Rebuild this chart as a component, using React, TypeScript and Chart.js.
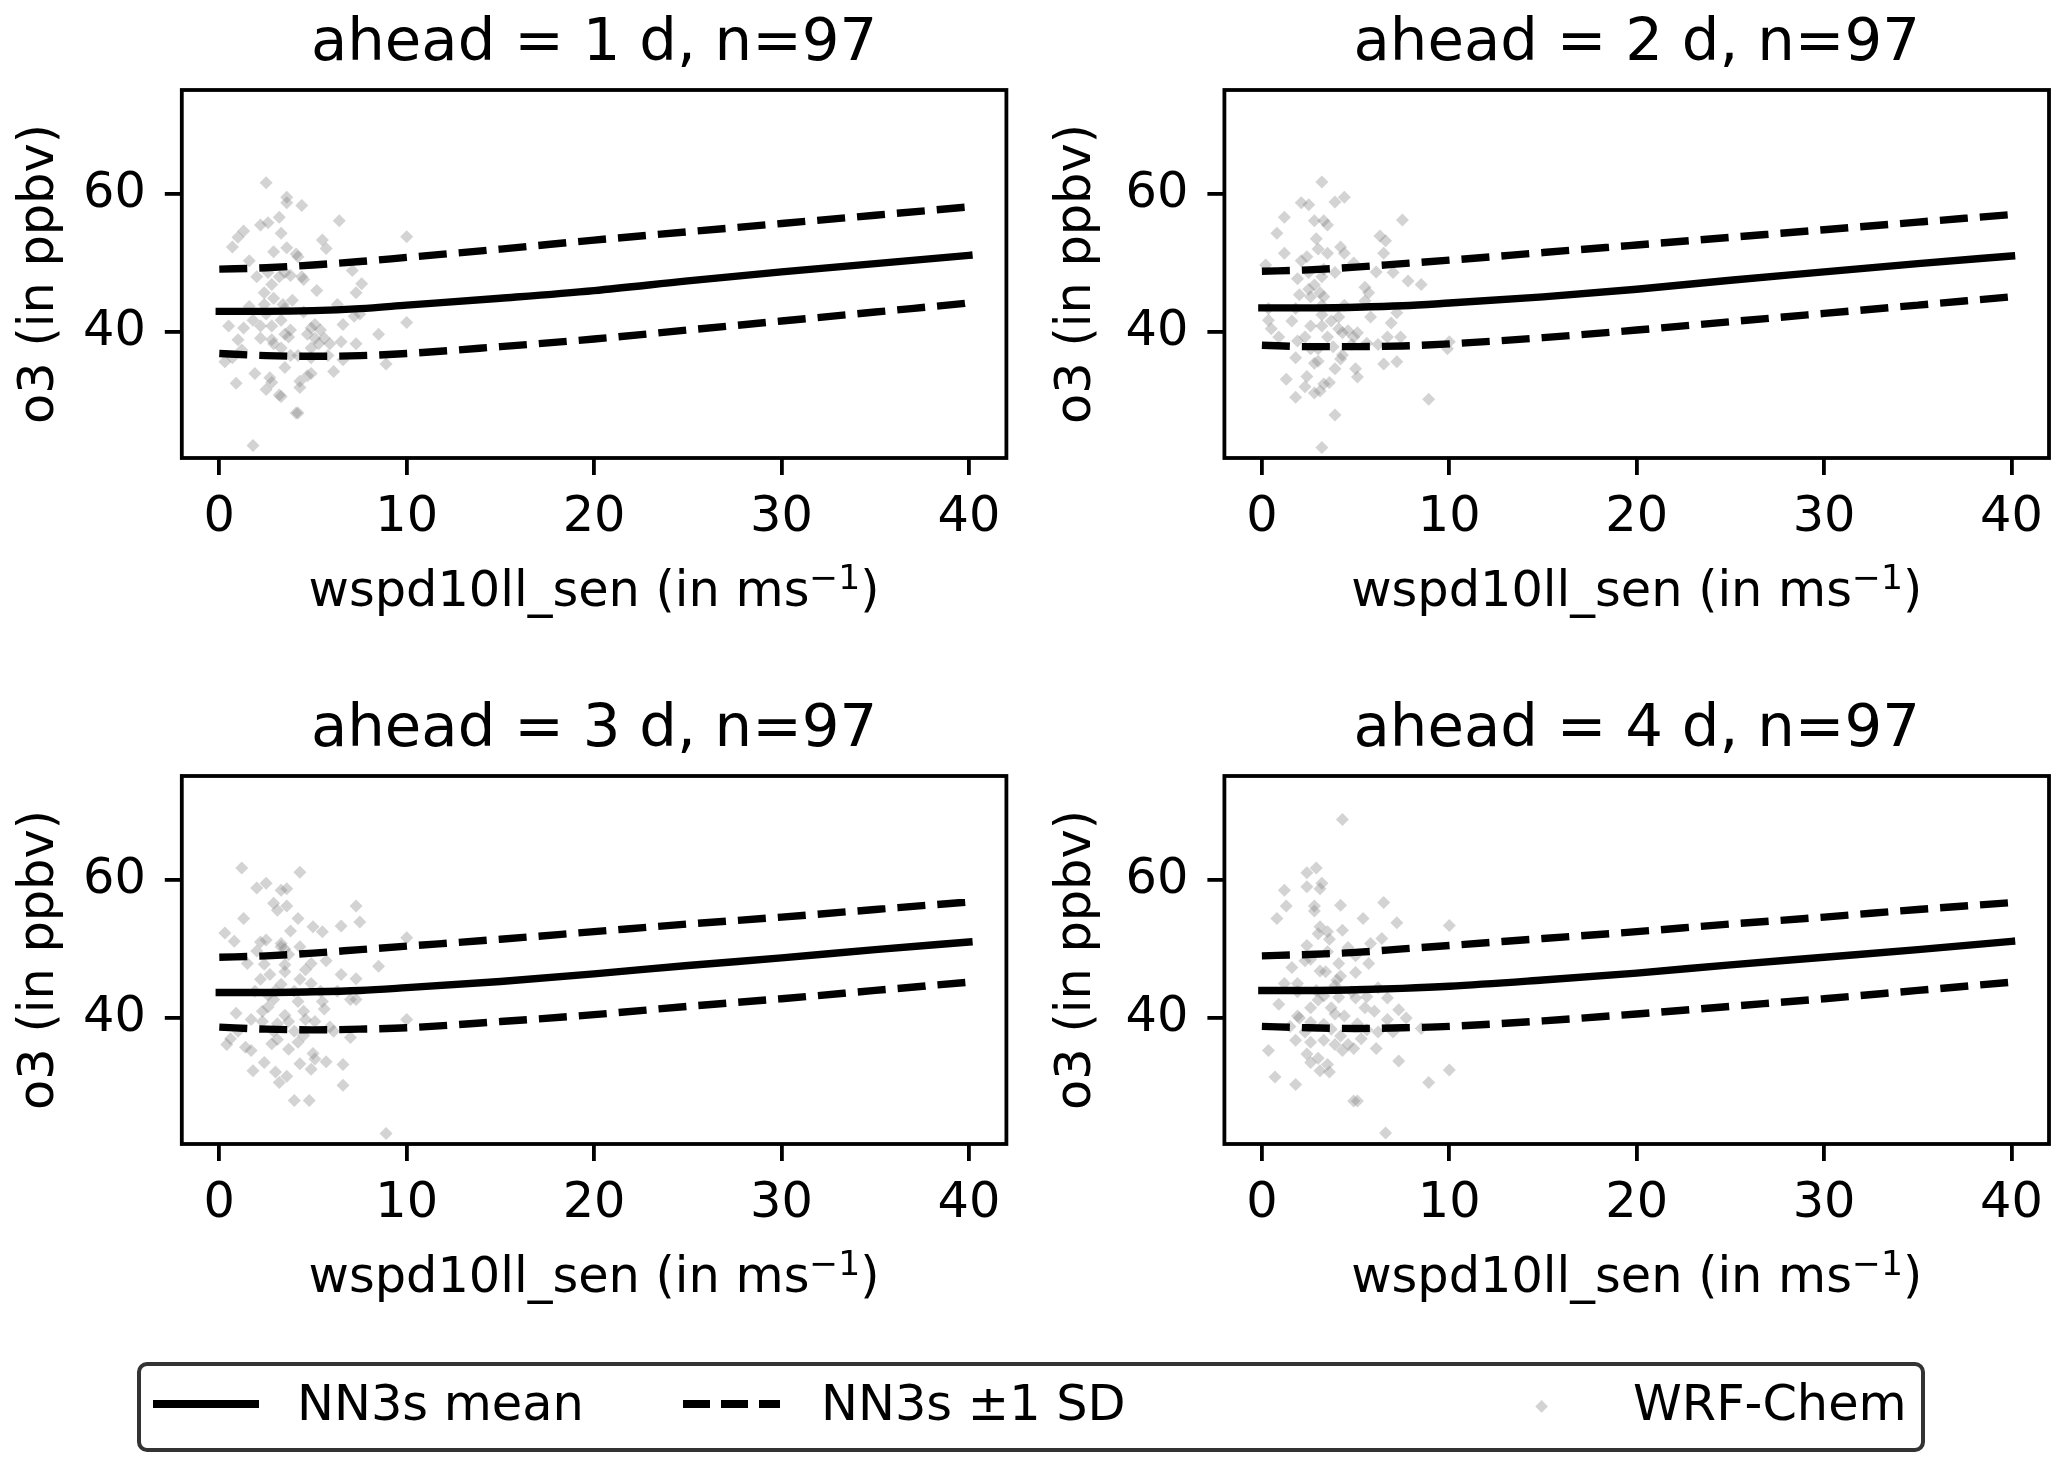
import React, { useEffect, useRef } from "react";
import { Chart, registerables } from "chart.js";

Chart.register(...registerables);

const FONT = "'DejaVu Sans', 'Noto Sans', sans-serif";

// ---------- text ----------
const panelTitles = ["ahead = 1 d, n=97", "ahead = 2 d, n=97", "ahead = 3 d, n=97", "ahead = 4 d, n=97"];
const xAxisLabelParts = ["wspd10ll_sen (in ms", "\u22121", ")"]; // main, superscript, closing
const yAxisLabel = "o3 (in ppbv)";
const xTickValues = [0, 10, 20, 30, 40];
const yTickValues = [40, 60];
const legendLabels = ["NN3s mean", "NN3s \u00B11 SD", "WRF-Chem"];

// ---------- NN3s curves ----------
const curveX = [0, 2.5, 5, 7.5, 10, 15, 20, 25, 30, 35, 40];

const mean1 = [43.0, 43.0, 43.1, 43.4, 43.9, 44.9, 46.0, 47.4, 48.7, 49.9, 51.1];
const upper1 = [49.1, 49.3, 49.7, 50.2, 50.8, 52.0, 53.3, 54.5, 55.7, 56.9, 58.1];
const lower1 = [36.9, 36.6, 36.5, 36.6, 36.9, 37.9, 39.0, 40.3, 41.6, 42.9, 44.2];

const mean2 = [43.5, 43.5, 43.6, 43.8, 44.2, 45.1, 46.2, 47.5, 48.7, 49.9, 51.0];
const upper2 = [48.8, 49.0, 49.4, 49.9, 50.4, 51.5, 52.6, 53.7, 54.8, 55.9, 57.0];
const lower2 = [38.1, 37.9, 37.9, 38.0, 38.3, 39.2, 40.3, 41.5, 42.7, 43.9, 45.1];

const mean3 = [43.7, 43.7, 43.8, 44.0, 44.4, 45.3, 46.4, 47.6, 48.7, 49.9, 51.0];
const upper3 = [48.8, 49.0, 49.4, 49.9, 50.4, 51.4, 52.5, 53.6, 54.6, 55.7, 56.8];
const lower3 = [38.7, 38.4, 38.3, 38.4, 38.6, 39.5, 40.5, 41.7, 42.8, 44.0, 45.2];

const mean4 = [44.0, 44.0, 44.1, 44.3, 44.6, 45.5, 46.5, 47.7, 48.8, 49.9, 51.1];
const upper4 = [49.0, 49.2, 49.5, 50.0, 50.5, 51.5, 52.5, 53.6, 54.6, 55.7, 56.7];
const lower4 = [38.8, 38.6, 38.5, 38.6, 38.8, 39.6, 40.6, 41.7, 42.8, 44.0, 45.2];

// ---------- WRF-Chem scatter ----------
const scatterX1 = [2.5, 3.6, 3.6, 4.4, 3.2, 2.6, 2.2, 6.4, 1.3, 1.0, 3.3, 10.0, 5.5, 0.7, 5.7, 2.9, 3.6, 4.1, 4.2, 1.6,
  7.1, 3.5, 3.8, 4.5, 3.2, 7.6, 5.2, 7.3, 2.4, 2.9, 2.4, 3.4, 1.6, 2.5, 7.5, 7.2, 1.8, 10.0, 2.8, 5.1,
  0.5, 3.8, 3.5, 3.7, 4.7, 5.4, 8.5, 2.2, 2.8, 5.1, 5.6, 6.5, 7.3, 1.2, 3.3, 4.9, 6.6, 4.9, 3.8, 0.7,
  0.3, 8.9, 6.1, 4.9, 1.9, 4.7, 2.7, 4.3, 0.9, 2.8, 4.3, 2.5, 3.2, 3.3, 4.1, 4.2, 1.8, 1.3, 5.9, 3.5,
  2.8, 4.4, 2.6, 4.9, 5.3, 3.3, 2.0, 6.3, 3.9, 2.2, 4.5, 6.6, 2.9, 1.0, 4.2, 5.8, 3.5];
const scatterY1 = [61.6, 59.5, 58.7, 58.3, 56.6, 55.8, 55.5, 56.1, 54.6, 53.7, 54.3, 53.8, 53.3, 52.3, 52.1, 51.6, 52.2, 51.3, 50.9, 50.3,
  48.9, 48.6, 48.2, 47.6, 48.0, 47.0, 46.0, 45.7, 45.7, 44.9, 44.0, 44.0, 43.7, 42.6, 42.6, 42.3, 41.7, 41.4, 40.9, 41.1,
  40.9, 40.3, 39.7, 39.3, 39.7, 40.3, 39.7, 39.1, 38.9, 39.1, 39.1, 38.6, 38.3, 37.4, 37.7, 37.7, 36.0, 36.3, 36.6, 36.3,
  35.7, 35.4, 34.3, 34.0, 34.0, 33.7, 33.4, 32.9, 32.6, 32.7, 32.0, 31.7, 30.9, 30.7, 28.3, 28.3, 23.6, 40.6, 38.3, 43.4,
  46.9, 48.0, 48.6, 40.6, 38.3, 41.7, 48.0, 44.0, 44.6, 40.9, 42.9, 41.1, 38.3, 38.9, 36.6, 36.6, 34.9];

const scatterX2 = [3.2, 4.4, 3.9, 2.1, 2.5, 1.2, 3.3, 7.5, 2.8, 3.5, 0.8, 2.9, 6.3, 6.6, 4.2, 3.0, 1.2, 4.4, 2.4, 6.5,
  0.2, 4.9, 6.1, 3.3, 1.9, 7.0, 7.8, 8.5, 2.5, 2.8, 5.5, 5.7, 2.6, 3.1, 3.2, 0.35, 4.1, 7.2, 3.2, 0.35,
  6.9, 2.6, 3.2, 4.1, 4.3, 4.6, 5.1, 3.5, 0.9, 2.3, 4.9, 6.7, 7.4, 10.0, 9.9, 3.8, 5.6, 3.0, 4.3, 1.8,
  3.0, 4.2, 2.8, 6.5, 7.2, 5.0, 5.1, 1.3, 2.4, 3.6, 3.3, 2.3, 3.1, 2.8, 1.8, 8.9, 3.9, 3.2, 2.0, 2.5,
  3.9, 3.3, 1.6, 3.7, 4.8, 1.8, 5.8, 2.6, 3.9, 1.9, 4.4, 6.2, 0.5, 3.2, 5.5, 3.5, 2.1];
const scatterY2 = [61.7, 59.5, 58.8, 58.7, 58.4, 56.6, 56.1, 56.2, 56.1, 55.5, 54.3, 53.5, 53.9, 53.2, 52.3, 52.0, 51.4, 51.4, 50.9, 51.4,
  49.7, 50.0, 48.7, 49.1, 47.7, 48.6, 47.4, 46.9, 46.2, 46.8, 46.5, 45.7, 45.1, 45.7, 43.9, 43.4, 42.2, 42.8, 42.5, 41.7,
  41.3, 40.9, 40.9, 40.5, 39.9, 40.2, 39.9, 39.3, 39.3, 39.3, 39.3, 39.3, 39.3, 38.6, 37.6, 37.9, 38.4, 37.6, 36.7, 36.3,
  35.8, 36.1, 35.5, 35.4, 35.7, 34.7, 33.5, 33.2, 33.6, 32.7, 32.5, 32.1, 31.5, 31.2, 30.6, 30.3, 28.0, 23.3, 45.4, 48.6,
  48.6, 45.1, 41.6, 41.6, 38.2, 43.4, 42.2, 37.6, 34.7, 38.7, 43.9, 38.2, 40.5, 48.0, 44.5, 51.4, 50.3];

const scatterX3 = [1.2, 4.3, 2.5, 2.0, 3.3, 3.6, 2.9, 3.6, 7.3, 3.1, 1.3, 4.2, 7.5, 6.5, 5.0, 5.5, 0.3, 2.5, 2.2, 10.0,
  0.8, 3.3, 3.5, 3.7, 5.7, 8.5, 2.4, 2.7, 3.5, 6.5, 7.3, 4.3, 3.3, 2.6, 4.2, 7.0, 7.3, 5.5, 2.6, 5.6,
  2.3, 0.9, 3.5, 4.6, 5.1, 10.0, 2.3, 3.7, 2.9, 6.1, 7.0, 3.1, 4.2, 0.6, 0.4, 1.4, 1.7, 3.7, 5.0, 5.1,
  5.7, 2.4, 4.3, 6.6, 4.9, 1.8, 3.0, 3.6, 3.2, 6.6, 4.0, 4.8, 8.9, 2.9, 1.9, 4.0, 4.5, 5.9, 2.8, 4.5,
  1.7, 3.5, 4.9, 3.8, 2.2, 5.4, 3.1, 1.0, 4.0, 3.3, 2.0, 4.9, 6.3, 4.3, 3.0, 4.6, 1.5];
const scatterY3 = [61.7, 61.1, 59.5, 58.8, 58.5, 58.7, 56.6, 56.2, 56.2, 55.6, 54.4, 54.4, 53.9, 53.3, 53.2, 52.5, 52.3, 51.3, 51.0, 51.6,
  51.1, 50.8, 50.0, 49.2, 48.3, 47.5, 47.8, 46.3, 46.7, 46.3, 45.7, 45.6, 44.9, 43.3, 42.4, 42.7, 42.7, 42.4, 41.6, 41.3,
  41.0, 40.7, 40.4, 39.8, 39.5, 39.8, 39.5, 39.5, 38.1, 38.1, 37.2, 36.9, 36.5, 37.0, 36.2, 35.8, 35.3, 35.5, 34.9, 34.1,
  33.7, 33.6, 33.4, 33.3, 32.6, 32.4, 32.2, 31.6, 30.7, 30.3, 28.1, 28.1, 23.3, 42.7, 43.9, 43.9, 41.0, 38.7, 36.3, 37.5,
  39.8, 47.7, 47.9, 52.6, 45.6, 43.9, 39.2, 38.1, 38.1, 50.3, 49.7, 45.0, 43.9, 50.3, 44.0, 47.0, 47.9];

const scatterX4 = [4.3, 2.4, 2.9, 2.4, 3.2, 3.1, 1.2, 2.8, 4.2, 6.5, 1.3, 2.8, 0.8, 5.4, 10.0, 7.2, 3.1, 3.5, 4.3, 3.0,
  6.4, 3.6, 2.4, 3.5, 5.0, 2.3, 5.7, 3.1, 3.4, 5.0, 4.2, 1.9, 3.9, 4.1, 5.0, 5.6, 6.7, 0.9, 7.3, 3.7,
  6.7, 1.9, 2.6, 3.3, 5.1, 7.7, 1.5, 3.7, 8.5, 5.6, 4.2, 2.6, 4.6, 3.9, 4.3, 4.9, 6.1, 0.35, 2.4, 3.0,
  7.3, 2.6, 3.5, 3.1, 3.6, 10.0, 0.7, 8.9, 1.8, 4.9, 5.1, 6.6, 2.6, 1.9, 3.0, 4.4, 6.2, 2.3, 3.3, 5.5,
  6.2, 1.6, 4.1, 4.6, 2.6, 7.0, 1.8, 4.8, 3.9, 3.3, 5.8, 1.2, 2.0, 4.0, 6.0, 2.9, 5.3];
const scatterY4 = [68.7, 61.0, 61.7, 59.0, 59.5, 58.7, 58.5, 56.2, 56.3, 56.7, 56.2, 55.5, 54.4, 54.4, 53.4, 53.8, 53.2, 52.5, 52.7, 52.2,
  51.5, 51.4, 50.5, 49.6, 49.0, 48.3, 47.9, 46.8, 46.7, 46.6, 46.1, 45.0, 44.7, 43.0, 42.9, 43.1, 42.9, 42.0, 41.2, 41.5,
  39.8, 40.3, 39.4, 39.1, 39.2, 40.0, 38.8, 38.4, 38.5, 38.3, 37.4, 36.5, 36.2, 36.2, 35.3, 35.6, 35.6, 35.3, 34.8, 34.2,
  33.8, 33.6, 33.3, 32.4, 32.2, 32.5, 31.5, 30.7, 30.4, 28.0, 28.0, 23.4, 48.5, 43.8, 42.6, 40.3, 38.0, 38.0, 43.2, 41.5,
  44.4, 47.3, 47.9, 50.2, 41.5, 38.0, 36.8, 43.8, 40.6, 36.8, 50.8, 45.0, 40.0, 45.5, 41.0, 44.0, 37.0];

const meanSeries = [mean1, mean2, mean3, mean4];
const upperSeries = [upper1, upper2, upper3, upper4];
const lowerSeries = [lower1, lower2, lower3, lower4];
const scatterXs = [scatterX1, scatterX2, scatterX3, scatterX4];
const scatterYs = [scatterY1, scatterY2, scatterY3, scatterY4];

// ---------- styling / layout ----------
const X_MIN = -2;
const X_MAX = 42;
const Y_MIN = 21.8;
const Y_MAX = 75.0;
const LINE_W = 7.4;
const DASH = [28, 12];
const SPINE_W = 3.8;
const TICK_LEN = 17;
const FS = 49.4;
const TITLE_FS = 59.3;
const SUP_FS = FS * 0.7;
const POINT_COLOR = "rgba(128,128,128,0.35)";

const CANVAS_H = 640;
const X_AXIS_H = 182;
const X_TITLE_BASELINE = 147.7; // below chart-area bottom

type PanelLayout = { left: number; top: number; width: number; yAxisW: number; padRight: number; yTitlePad: number };
const panelLayouts: PanelLayout[] = [
  { left: 0, top: 0, width: 1034, yAxisW: 181.8, padRight: 27.6, yTitlePad: 15.5 },
  { left: 1034, top: 0, width: 1033, yAxisW: 190.4, padRight: 18, yTitlePad: 18 },
  { left: 0, top: 686, width: 1034, yAxisW: 181.8, padRight: 27.6, yTitlePad: 15.5 },
  { left: 1034, top: 686, width: 1033, yAxisW: 190.4, padRight: 18, yTitlePad: 18 },
];

const toXY = (xs: number[], ys: number[]) => xs.map((x, i) => ({ x, y: ys[i] }));

const boxPlugin = {
  id: "axesBox",
  afterDraw(chart: any) {
    const { ctx, chartArea: a } = chart;
    ctx.save();
    ctx.strokeStyle = "#000";
    ctx.lineWidth = SPINE_W;
    ctx.strokeRect(a.left, a.top, a.right - a.left, a.bottom - a.top);
    ctx.restore();
  },
};

const xTitlePlugin = {
  id: "xTitleSup",
  afterDraw(chart: any) {
    const { ctx, chartArea: a } = chart;
    const [main, sup, close] = xAxisLabelParts;
    ctx.save();
    ctx.fillStyle = "#000";
    ctx.textBaseline = "alphabetic";
    ctx.textAlign = "left";
    const mainFont = `${FS}px ${FONT}`;
    const supFont = `${SUP_FS}px ${FONT}`;
    ctx.font = mainFont;
    const w1 = ctx.measureText(main).width;
    const w3 = ctx.measureText(close).width;
    ctx.font = supFont;
    const w2 = ctx.measureText(sup).width;
    const total = w1 + w2 + w3;
    let x = (a.left + a.right) / 2 - total / 2;
    const y = a.bottom + X_TITLE_BASELINE;
    ctx.font = mainFont;
    ctx.fillText(main, x, y);
    x += w1;
    ctx.font = supFont;
    ctx.fillText(sup, x, y - FS * 0.34);
    x += w2;
    ctx.font = mainFont;
    ctx.fillText(close, x, y);
    ctx.restore();
  },
};

function Panel({ idx }: { idx: number }) {
  const ref = useRef<HTMLCanvasElement | null>(null);
  const L = panelLayouts[idx];
  useEffect(() => {
    if (!ref.current) return;
    const lineBase = {
      showLine: true,
      borderColor: "#000",
      borderWidth: LINE_W,
      pointRadius: 0,
      pointHoverRadius: 0,
      fill: false,
      cubicInterpolationMode: "monotone" as const,
      borderJoinStyle: "round" as const,
    };
    const chart = new Chart(ref.current, {
      type: "scatter",
      data: {
        datasets: [
          { ...lineBase, label: legendLabels[0], data: toXY(curveX, meanSeries[idx]), borderCapStyle: "square" },
          { ...lineBase, label: legendLabels[1], data: toXY(curveX, upperSeries[idx]), borderDash: DASH, borderCapStyle: "butt" },
          { ...lineBase, label: legendLabels[1], data: toXY(curveX, lowerSeries[idx]), borderDash: DASH, borderCapStyle: "butt" },
          {
            label: legendLabels[2],
            data: toXY(scatterXs[idx], scatterYs[idx]),
            showLine: false,
            pointStyle: "rectRot",
            pointRadius: 6.5,
            pointHoverRadius: 6.5,
            pointBackgroundColor: POINT_COLOR,
            pointBorderColor: "rgba(0,0,0,0)",
            pointBorderWidth: 0,
          },
        ] as any,
      },
      options: {
        responsive: false,
        animation: false,
        devicePixelRatio: 1,
        events: [],
        layout: { padding: { left: 0, right: L.padRight, top: 0, bottom: 0 } },
        plugins: {
          legend: { display: false },
          tooltip: { enabled: false },
          title: {
            display: true,
            text: panelTitles[idx],
            color: "#000",
            fullSize: false,
            font: { family: FONT, size: TITLE_FS, weight: "normal", lineHeight: 1 },
            padding: { top: 15.4, bottom: 15.3 },
          },
        },
        scales: {
          x: {
            type: "linear",
            min: X_MIN,
            max: X_MAX,
            afterBuildTicks: (s: any) => {
              s.ticks = xTickValues.map((v) => ({ value: v }));
            },
            afterFit: (s: any) => {
              s.height = X_AXIS_H;
            },
            ticks: {
              color: "#000",
              font: { family: FONT, size: FS },
              padding: 13.5,
              maxRotation: 0,
              autoSkip: false,
            },
            grid: { display: true, drawOnChartArea: false, drawTicks: true, tickLength: TICK_LEN, color: "#000", lineWidth: SPINE_W },
            border: { display: false },
            title: { display: false },
          },
          y: {
            type: "linear",
            min: Y_MIN,
            max: Y_MAX,
            afterBuildTicks: (s: any) => {
              s.ticks = yTickValues.map((v) => ({ value: v }));
            },
            afterFit: (s: any) => {
              s.width = L.yAxisW;
            },
            ticks: {
              color: "#000",
              font: { family: FONT, size: FS },
              padding: 19,
              autoSkip: false,
            },
            grid: { display: true, drawOnChartArea: false, drawTicks: true, tickLength: TICK_LEN, color: "#000", lineWidth: SPINE_W },
            border: { display: false },
            title: {
              display: true,
              text: yAxisLabel,
              color: "#000",
              font: { family: FONT, size: FS, lineHeight: 1 },
              padding: { top: L.yTitlePad, bottom: 0 },
            },
          },
        },
      } as any,
      plugins: [boxPlugin, xTitlePlugin],
    });
    return () => chart.destroy();
  }, [idx]);
  return (
    <canvas
      ref={ref}
      width={L.width}
      height={CANVAS_H}
      style={{ position: "absolute", left: L.left, top: L.top, width: L.width, height: CANVAS_H, display: "block" }}
    />
  );
}

function Legend() {
  const textStyle: React.CSSProperties = {
    position: "absolute",
    top: 1379.2,
    fontFamily: FONT,
    fontSize: FS,
    lineHeight: `${FS}px`,
    color: "#000",
    whiteSpace: "nowrap",
  };
  const dash = (l: number, w: number): React.CSSProperties => ({
    position: "absolute",
    left: l,
    top: 1404 - LINE_W / 2,
    width: w,
    height: LINE_W,
    background: "#000",
  });
  return (
    <>
      <div
        style={{
          position: "absolute",
          left: 137,
          top: 1362,
          width: 1788,
          height: 90,
          boxSizing: "border-box",
          border: "4px solid #333",
          borderRadius: 10,
          background: "#fff",
        }}
      />
      <div style={dash(153, 106)} />
      <div style={{ ...textStyle, left: 297 }}>{legendLabels[0]}</div>
      <div style={dash(683, 27)} />
      <div style={dash(721, 27)} />
      <div style={dash(759, 21)} />
      <div style={{ ...textStyle, left: 821 }}>{legendLabels[1]}</div>
      <div
        style={{
          position: "absolute",
          left: 1542 - 4.6,
          top: 1407 - 4.6,
          width: 9.2,
          height: 9.2,
          background: POINT_COLOR,
          transform: "rotate(45deg)",
        }}
      />
      <div style={{ ...textStyle, left: 1633 }}>{legendLabels[2]}</div>
    </>
  );
}

export default function App() {
  return (
    <div style={{ position: "absolute", left: 0, top: 0, width: 2067, height: 1471, background: "#fff", overflow: "hidden" }}>
      {[0, 1, 2, 3].map((i) => (
        <Panel key={i} idx={i} />
      ))}
      <Legend />
    </div>
  );
}
